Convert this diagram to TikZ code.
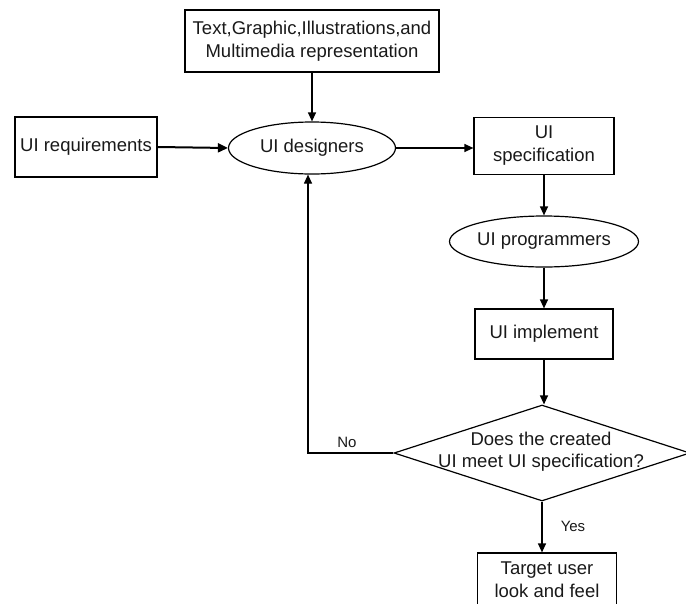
\documentclass[tikz,border=0pt]{standalone}
\usepackage{fontspec}
\setmainfont{Liberation Sans}
\usetikzlibrary{arrows.meta,shapes.geometric}

\tikzset{
  every node/.style={font=\fontsize{18.5}{23}\selectfont, text=black!90, inner sep=0pt, align=center},
  box/.style={draw, rectangle, line width=1.2pt},
  thickbox/.style={draw, rectangle, line width=2pt},
  oval/.style={draw, ellipse, line width=1.2pt},
  decision/.style={draw, diamond, line width=1.2pt},
  arr/.style={line width=1.2pt, -{Triangle[length=9pt,width=8pt]}},
  thickarr/.style={line width=2pt, -{Triangle[length=10pt,width=9pt]}},
  small/.style={font=\fontsize{15}{17}\selectfont}
}

\begin{document}
\begin{tikzpicture}[x=1pt,y=-1pt]
  \useasboundingbox (0,0) rectangle (686,603);

  % nodes
  \node[box, minimum width=254pt, minimum height=62pt] (media) at (312,41)
    {Text,Graphic,Illustrations,and\\Multimedia representation};
  \node[thickbox, minimum width=142pt, minimum height=60pt] (req) at (86,147)
    {UI requirements};
  \node[oval, minimum width=167pt, minimum height=52pt] (des) at (312,148)
    {UI designers};
  \node[box, minimum width=140pt, minimum height=57pt] (spec) at (544,146)
    {UI\\specification};
  \node[oval, minimum width=168pt, minimum height=51pt] (prog) at (544,241.5)
    {UI programmers};
  \node[box, minimum width=138pt, minimum height=50pt] (impl) at (544,334)
    {UI implement};
  \node[decision, minimum width=296pt, minimum height=96pt, aspect=3] (dia) at (542,453)
    {};
  \node at (541,439) {Does the created};
  \node at (541,463) {UI meet UI specification?};
  \node[box, minimum width=139pt, minimum height=53pt] (target) at (547,579.5)
    {Target user\\look and feel};

  \coordinate (fb) at (308,453);

  % connectors
  \draw[arr] (media.south) -- (des.north);
  \draw[thickarr] (req.east) -- (des.west);
  \draw[arr] (des.east) -- (des.east -| spec.west);
  \draw[arr] (spec.south) -- (prog.north);
  \draw[arr] (prog.south) -- (impl.north);
  \draw[arr] (impl.south) -- (impl.south |- dia.north);
  \draw[arr] (dia.west) -- (fb) -- (fb |- des.south);
  \draw[arr] (dia.south) -- (target.north -| dia.south);

  % branch labels
  \node[small] (nolabel) at (347,442) {No};
  \node[small] (yeslabel) at (573,526) {Yes};
\end{tikzpicture}
\end{document}
